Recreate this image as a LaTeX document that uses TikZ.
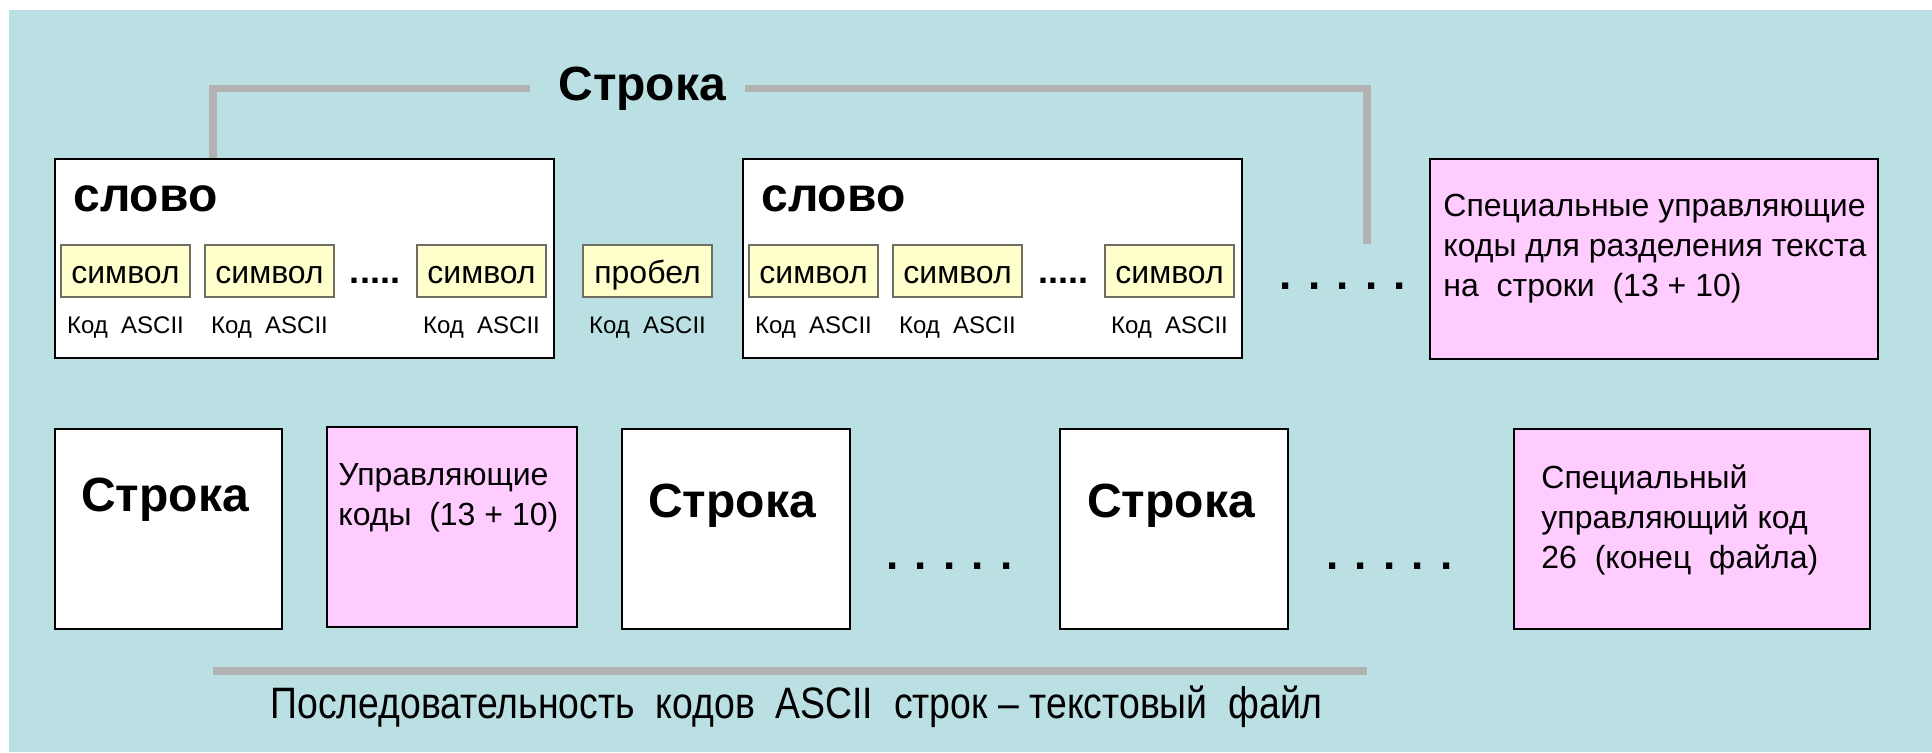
\documentclass[tikz,border=0pt]{standalone}
\usepackage{fontspec}
\setmainfont{Liberation Sans}
\newfontfamily\narrowfam[FakeStretch=0.85]{Liberation Sans}
\definecolor{bgteal}{RGB}{187,224,227}
\definecolor{pinkfill}{RGB}{255,204,255}
\definecolor{yellowfill}{RGB}{255,255,204}
\definecolor{linegray}{RGB}{178,178,178}
\definecolor{symborder}{RGB}{110,110,100}
\newcommand{\regfont}{\fontsize{16}{20}\selectfont}
\newcommand{\boldbig}{\fontsize{24}{28}\selectfont\bfseries}
\newcommand{\codefont}{\fontsize{12}{14}\selectfont}
\newcommand{\dotsfont}{\fontsize{22}{26}\selectfont\bfseries}
\newcommand{\smalldots}{\fontsize{18}{20}\selectfont\bfseries}
\newcommand{\capfont}{\narrowfam\fontsize{22}{26}\selectfont}
\tikzset{
  boxbase/.style={draw=black, line width=1.2pt, inner sep=0pt, anchor=north west},
  wordbox/.style={boxbase, fill=white, minimum width=249.5pt, minimum height=99.5pt},
  rowbox/.style={boxbase, fill=white, minimum width=114pt, minimum height=100pt},
  pinkbox/.style={boxbase, fill=pinkfill, minimum height=100pt},
  symbox/.style={draw=symborder, line width=0.6pt, fill=yellowfill, inner sep=0pt,
    minimum width=64.5pt, minimum height=26pt, font=\regfont, text height=12pt, text depth=0pt},
  codelbl/.style={anchor=base, inner sep=0pt, font=\codefont},
  boldtxt/.style={inner sep=0pt, font=\boldbig},
  regtxt/.style={inner sep=0pt, font=\regfont},
  dotstxt/.style={inner sep=0pt, anchor=base, font=\dotsfont},
  grayline/.style={draw=linegray, line width=3.7pt},
}
\begin{document}
\begin{tikzpicture}[x=0.5pt,y=-0.5pt]
\useasboundingbox (0,0) rectangle (1932,752);
\fill[white] (0,0) rectangle (1932,752);
\fill[bgteal] (9,10) rectangle (1932,752);

% ---------- top row ----------
\node[wordbox] (w1) at (54,158) {};
\node[boldtxt, anchor=base west] (w1t) at (73,211) {слово};
\node[symbox] (s11) at (125.5,271) {символ};
\node[symbox] (s12) at (269.5,271) {символ};
\node[inner sep=0pt, anchor=base, font=\smalldots] (d1) at (375,283) {.....};
\node[symbox] (s13) at (481.5,271) {символ};
\node[codelbl] (c11) at (125.5,333) {Код~~ASCII};
\node[codelbl] (c12) at (269.5,333) {Код~~ASCII};
\node[codelbl] (c13) at (481.5,333) {Код~~ASCII};

\node[symbox] (sp) at (647.5,271) {пробел};
\node[codelbl] (csp) at (647.5,333) {Код~~ASCII};

\node[wordbox] (w2) at (742,158) {};
\node[boldtxt, anchor=base west] (w2t) at (761,211) {слово};
\node[symbox] (s21) at (813.5,271) {символ};
\node[symbox] (s22) at (957.5,271) {символ};
\node[inner sep=0pt, anchor=base, font=\smalldots] (d2) at (1063,283) {.....};
\node[symbox] (s23) at (1169.5,271) {символ};
\node[codelbl] (c21) at (813.5,333) {Код~~ASCII};
\node[codelbl] (c22) at (957.5,333) {Код~~ASCII};
\node[codelbl] (c23) at (1169.5,333) {Код~~ASCII};

\node[dotstxt] (d3) at (1343,289) {. . . . .};

\node[pinkbox, minimum width=224pt] (p1) at (1429,158) {};
\node[regtxt, anchor=base west] (p1t) at (1443,216)
  {\begin{tabular}[t]{@{}l@{}}Специальные управляющие\\коды для разделения текста\\на~~строки~~(13 + 10)\end{tabular}};

% title and bracket
\node[boldtxt, anchor=base west] (title) at (558,100) {Строка};
\coordinate (lj) at (213,0);
\coordinate (rend) at (1367,244);
\draw[grayline] (w1.north -| lj) |- ([xshift=-14pt]title.west);
\draw[grayline] ([xshift=9.5pt]title.east) -| (rend);

% ---------- bottom row ----------
\node[rowbox, minimum width=113.5pt] (r1) at (54,428) {};
\node[boldtxt, anchor=base] (r1t) at (165,511) {Строка};

\node[pinkbox, minimum width=125pt] (p2) at (326,426) {};
\node[regtxt, anchor=base west] (p2t) at (338,485)
  {\begin{tabular}[t]{@{}l@{}}Управляющие\\коды~~(13 + 10)\end{tabular}};

\node[rowbox] (r2) at (621,428) {};
\node[boldtxt, anchor=base] (r2t) at (732,517) {Строка};

\node[dotstxt] (d4) at (949.5,569) {. . . . .};

\node[rowbox] (r3) at (1059,428) {};
\node[boldtxt, anchor=base] (r3t) at (1171,517) {Строка};

\node[dotstxt] (d5) at (1389.5,569) {. . . . .};

\node[pinkbox, minimum width=178pt] (p3) at (1513,428) {};
\node[regtxt, anchor=base west] (p3t) at (1541,488)
  {\begin{tabular}[t]{@{}l@{}}Специальный\\управляющий код\\26~~(конец~~файла)\end{tabular}};

% bottom bracket and caption
\coordinate (bl1) at (213,671);
\coordinate (bl2) at (1367,671);
\draw[grayline] (bl1) -- (bl2);
\node[inner sep=0pt, anchor=base west, font=\capfont] (cap) at (270,718)
  {Последовательность~~кодов~~ASCII~~строк – текстовый~~файл};
\end{tikzpicture}
\end{document}
